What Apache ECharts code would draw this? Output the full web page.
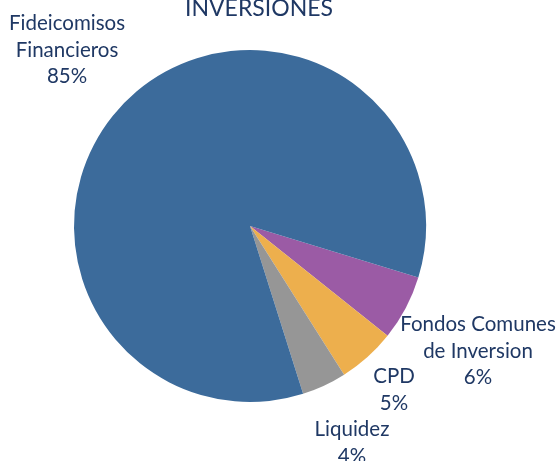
<!DOCTYPE html>
<html>
<head>
<meta charset="utf-8">
<script src="https://cdn.jsdelivr.net/npm/echarts@6/dist/echarts.min.js"></script>
<style>
html,body{margin:0;padding:0;background:#fff;}
#c{width:556px;height:461px;}
</style>
</head>
<body>
<div id="c"></div>
<script>
const categories = ['Fondos Comunes\nde Inversion', 'CPD', 'Liquidez', 'Fideicomisos\nFinancieros'];
const values = [6.0, 5.3, 4.1, 84.6];
const colors = ['#9B5BA5', '#EDAF4D', '#969696', '#3C6B9B'];
const titleText = 'INVERSIONES';
// label block centres (layout only)
const labelPos = [[478, 351], [394, 390], [352, 443], [67, 50]];

const chart = echarts.init(document.getElementById('c'), null, {renderer: 'canvas'});
chart.setOption({
  animation: false,
  title: {
    text: titleText,
    left: 254, top: -8,
    textAlign: 'center',
    textStyle: {fontFamily: 'Lato', fontSize: 23, fontWeight: 'normal', color: '#1F3864'}
  },
  series: [{
    type: 'pie',
    center: [250, 226],
    radius: [0, 176],
    startAngle: -17,
    clockwise: true,
    percentPrecision: 0,
    data: categories.map((c, i) => ({name: c, value: values[i], itemStyle: {color: colors[i]}})),
    label: {
      show: true,
      position: 'outside',
      formatter: '{b}\n{d}%',
      fontFamily: 'Lato',
      fontSize: 20.5,
      lineHeight: 26.5,
      color: '#1F3864',
      align: 'center',
      overflow: 'none'
    },
    labelLine: {show: false},
    labelLayout: function (p) {
      const pos = labelPos[p.dataIndex];
      return {x: pos[0], y: pos[1], align: 'center', verticalAlign: 'middle'};
    }
  }]
});
</script>
</body>
</html>
